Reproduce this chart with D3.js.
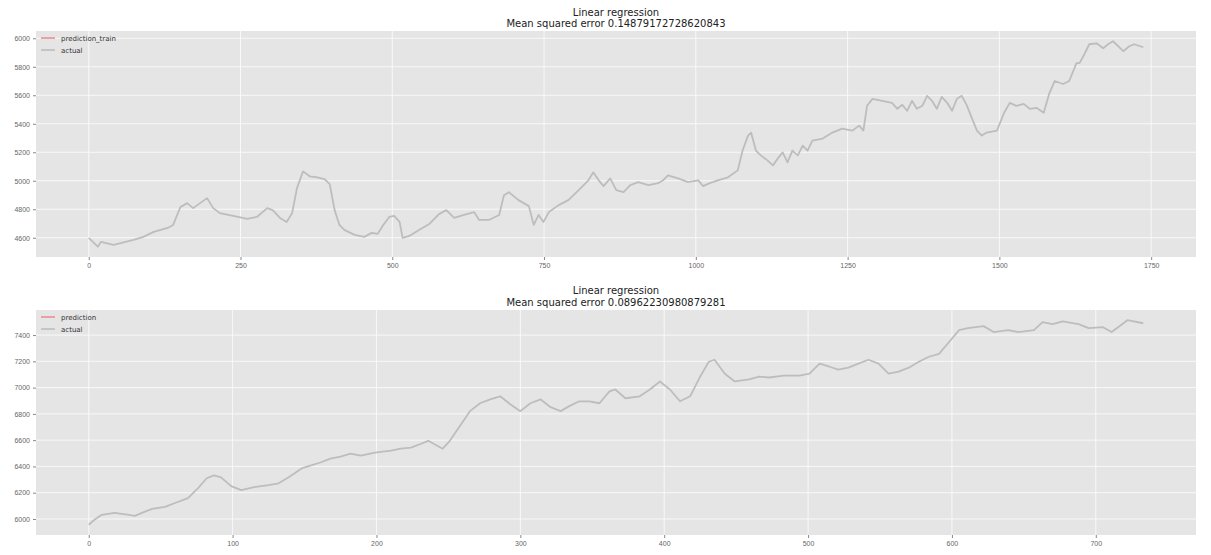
<!DOCTYPE html>
<html>
<head>
<meta charset="utf-8">
<script src="https://cdn.jsdelivr.net/npm/d3@7"></script>
<style>
  html, body { margin: 0; padding: 0; background: #fff; }
  svg { display: block; font-family: "DejaVu Sans", sans-serif; }
</style>
</head>
<body>
<svg id="chart" width="1211" height="555"></svg>
<script>
// Training set: sample index and actual value
const trainIndex = [0,15,20,41,74,90,107,130,139,151,162,172,195,205,216,238,261,277,294,303,315,326,335,343,353,364,377,389,397,405,413,421,438,454,466,476,484,495,503,512,517,528,544,561,577,589,602,618,635,643,659,676,684,692,700,708,725,733,741,749,758,774,790,807,823,831,840,848,859,869,881,892,905,922,938,946,954,971,987,1004,1012,1023,1036,1053,1069,1077,1086,1091,1099,1107,1118,1127,1135,1143,1151,1159,1168,1176,1184,1192,1209,1225,1241,1258,1269,1276,1282,1291,1307,1323,1332,1340,1348,1356,1364,1373,1381,1389,1397,1405,1414,1422,1430,1438,1446,1455,1463,1471,1479,1496,1507,1517,1528,1540,1550,1561,1573,1582,1591,1605,1615,1627,1632,1640,1648,1660,1671,1679,1687,1696,1704,1714,1722,1737];
const trainActual = [4599,4537,4571,4550,4585,4606,4641,4669,4690,4815,4843,4808,4878,4808,4773,4753,4732,4746,4808,4794,4739,4711,4773,4948,5066,5031,5024,5010,4976,4794,4690,4655,4620,4606,4634,4627,4683,4746,4753,4711,4599,4613,4655,4697,4766,4794,4739,4760,4780,4725,4725,4760,4899,4920,4892,4864,4822,4690,4760,4711,4780,4829,4864,4934,5003,5059,5003,4962,5017,4934,4920,4969,4990,4969,4983,5003,5038,5017,4990,5003,4962,4983,5003,5024,5073,5212,5317,5338,5212,5178,5143,5108,5157,5199,5129,5212,5178,5247,5212,5282,5296,5338,5366,5352,5387,5352,5526,5575,5561,5547,5505,5533,5491,5561,5505,5526,5596,5561,5505,5589,5547,5491,5575,5596,5533,5436,5352,5317,5338,5352,5470,5547,5526,5540,5505,5512,5477,5610,5700,5679,5700,5826,5826,5888,5958,5965,5930,5958,5979,5944,5909,5944,5958,5937];

// Test set: sample index and actual value
const testIndex = [0,4,9,18,28,32,37,44,53,60,69,76,82,87,92,99,106,115,125,132,139,148,154,161,168,175,182,189,199,210,217,224,231,236,241,246,251,258,265,272,279,286,293,300,307,314,321,328,334,341,348,355,362,366,373,383,390,397,404,411,418,425,431,435,442,449,459,466,473,483,494,501,508,515,521,528,535,542,549,556,563,570,577,584,591,598,605,611,622,629,639,646,657,663,670,677,688,695,705,711,722,733];
const testActual = [5956,5994,6032,6047,6032,6024,6047,6077,6092,6122,6159,6235,6310,6332,6317,6250,6220,6242,6257,6272,6317,6385,6407,6430,6460,6475,6498,6483,6505,6520,6535,6543,6573,6595,6565,6535,6595,6708,6821,6881,6911,6934,6874,6821,6881,6911,6851,6821,6859,6896,6896,6881,6971,6986,6919,6934,6986,7047,6986,6896,6934,7084,7197,7212,7107,7047,7062,7084,7077,7092,7092,7107,7182,7159,7137,7152,7182,7212,7182,7107,7122,7152,7197,7235,7257,7347,7438,7453,7468,7423,7438,7423,7438,7498,7483,7505,7483,7453,7460,7423,7513,7490];

const trainXTicks = [0,250,500,750,1000,1250,1500,1750];
const trainYTicks = [4600,4800,5000,5200,5400,5600,5800,6000];
const testXTicks = [0,100,200,300,400,500,600,700];
const testYTicks = [6000,6200,6400,6600,6800,7000,7200,7400];

const panels = [
  { title: "Linear regression", subtitle: "Mean squared error 0.14879172728620843",
    predLabel: "prediction_train", idx: trainIndex, vals: trainActual,
    xTicks: trainXTicks, yTicks: trainYTicks, top: 31, bottom: 257, titleY: 15.5 },
  { title: "Linear regression", subtitle: "Mean squared error 0.08962230980879281",
    predLabel: "prediction", idx: testIndex, vals: testActual,
    xTicks: testXTicks, yTicks: testYTicks, top: 310, bottom: 535, titleY: 294 }
];

const svg = d3.select("#chart");
const left = 36, right = 1196;
const predColor = "#ec8c93", actualColor = "#bdbdbd";

// matplotlib-style 5% data margins
function padded(ext) {
  const p = (ext[1] - ext[0]) * 0.05;
  return [ext[0] - p, ext[1] + p];
}

panels.forEach(p => {
  const x = d3.scaleLinear().domain(padded(d3.extent(p.idx))).range([left, right]);
  const y = d3.scaleLinear().domain(padded(d3.extent(p.vals))).range([p.bottom, p.top]);
  const g = svg.append("g");

  // panel background
  g.append("rect").attr("x", left).attr("y", p.top)
    .attr("width", right - left).attr("height", p.bottom - p.top)
    .attr("fill", "#e5e5e5");

  // grid
  g.selectAll(".vg").data(p.xTicks).join("line")
    .attr("x1", d => x(d)).attr("x2", d => x(d))
    .attr("y1", p.top).attr("y2", p.bottom)
    .attr("stroke", "#fafafa").attr("stroke-width", 0.9);
  g.selectAll(".hg").data(p.yTicks).join("line")
    .attr("x1", left).attr("x2", right)
    .attr("y1", d => y(d)).attr("y2", d => y(d))
    .attr("stroke", "#fafafa").attr("stroke-width", 0.9);

  // axes
  const xAxis = d3.axisBottom(x).tickValues(p.xTicks).tickSize(3).tickPadding(3).tickFormat(d3.format("d"));
  const yAxis = d3.axisLeft(y).tickValues(p.yTicks).tickSize(3).tickPadding(3).tickFormat(d3.format("d"));
  const gx = g.append("g").attr("transform", `translate(0,${p.bottom})`).call(xAxis);
  const gy = g.append("g").attr("transform", `translate(${left},0)`).call(yAxis);
  [gx, gy].forEach(a => {
    a.select(".domain").remove();
    a.selectAll(".tick line").attr("stroke", "#888");
    a.selectAll(".tick text").attr("fill", "#666").style("font-size", "7px");
  });

  // actual series
  const line = d3.line().x((d, i) => x(p.idx[i])).y(d => y(d));
  g.append("path").datum(p.vals).attr("d", line)
    .attr("fill", "none").attr("stroke", actualColor)
    .attr("stroke-width", 1.8).attr("stroke-linejoin", "round");

  // titles
  const cx = (left + right) / 2;
  g.append("text").attr("x", cx).attr("y", p.titleY).attr("text-anchor", "middle")
    .style("font-size", "10px").attr("fill", "#222").text(p.title);
  g.append("text").attr("x", cx).attr("y", p.titleY + 11.5).attr("text-anchor", "middle")
    .style("font-size", "10px").attr("fill", "#222").text(p.subtitle);

  // legend
  const lg = g.append("g").attr("transform", `translate(${left + 5},${p.top + 7})`);
  [[p.predLabel, predColor], ["actual", actualColor]].forEach((e, i) => {
    lg.append("line").attr("x1", 0).attr("x2", 14).attr("y1", i * 12).attr("y2", i * 12)
      .attr("stroke", e[1]).attr("stroke-width", 1.6);
    lg.append("text").attr("x", 20).attr("y", i * 12 + 2.5)
      .style("font-size", "7px").attr("fill", "#333").text(e[0]);
  });
});
</script>
</body>
</html>
